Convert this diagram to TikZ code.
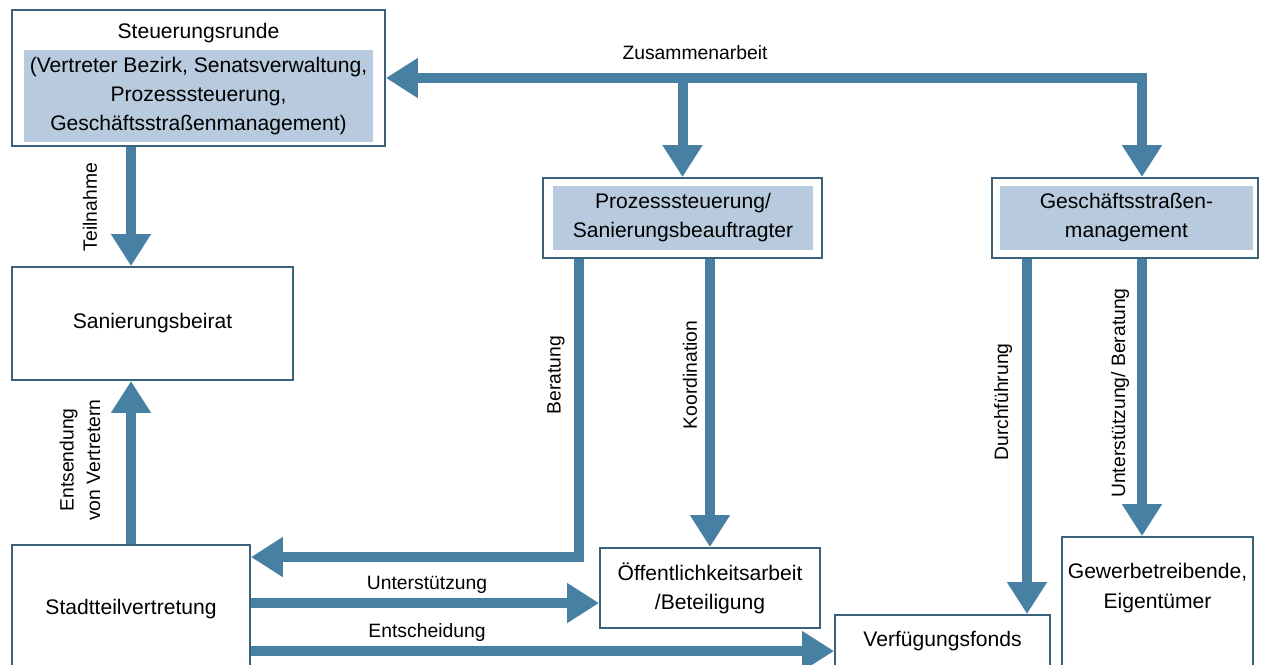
\documentclass[tikz,border=0pt]{standalone}
\usepackage{fontspec}
\setmainfont{Liberation Sans}
\usepackage{tikz}
\usetikzlibrary{arrows.meta,positioning,calc}

\definecolor{flowblue}{RGB}{72,128,163}
\definecolor{boxline}{RGB}{58,98,124}
\definecolor{shadeblue}{RGB}{184,202,222}

\begin{document}
\begin{tikzpicture}[x=0.02cm,y=-0.02cm,
    font=\fontsize{12}{16.5}\selectfont,
    box/.style={draw=boxline,line width=1.1pt,fill=white,inner sep=0pt,align=center},
    shadebox/.style={fill=shadeblue,inner sep=0pt,align=center},
    flow/.style={draw=flowblue,line width=0.2cm,-{Triangle[width=0.76cm,length=0.64cm]}},
    lbl/.style={font=\fontsize{11}{15}\selectfont,inner sep=1pt},
    vlbl/.style={lbl,rotate=90,align=center}]
        \useasboundingbox (0,0) rectangle (1262,664);

        % Top boxes
        \node[box,minimum width=7.46cm,minimum height=2.72cm] (steuer) at (198.5,78) {};
        \node (steuerTitle) at (198.5,33) {Steuerungsrunde};
        \node[shadebox,minimum width=6.98cm,minimum height=1.84cm] (steuerIn) at (198.5,96)
            {(Vertreter Bezirk, Senatsverwaltung,\\Prozesssteuerung,\\Geschäftsstraßenmanagement)};

        \node[box,minimum width=5.58cm,minimum height=1.6cm] (prozess) at (682.5,218) {};
        \node[shadebox,minimum width=5.2cm,minimum height=1.28cm] (prozessIn) at (683,218)
            {Prozesssteuerung/\\Sanierungsbeauftragter};

        \node[box,minimum width=5.32cm,minimum height=1.6cm] (geschaeft) at (1125,218) {};
        \node[shadebox,minimum width=5.06cm,minimum height=1.28cm] (geschaeftIn) at (1126.5,218)
            {Geschäftsstraßen-\\management};

        % Left boxes
        \node[box,minimum width=5.62cm,minimum height=2.26cm] (beirat) at (152.5,323.5) {Sanierungsbeirat};
        \node[box,minimum width=4.76cm,minimum height=2.56cm] (stadtteil) at (131,609) {Stadtteilvertretung};

        % Bottom boxes
        \node[box,minimum width=4.4cm,minimum height=1.6cm] (oeff) at (710,588) {Öffentlichkeitsarbeit\\/Beteiligung};
        \node[box,minimum width=4.3cm,minimum height=1.04cm] (verf) at (942.5,641) {Verfügungsfonds};
        \node[box,minimum width=3.82cm,minimum height=2.76cm] (gewerbe) at (1157.5,606) {};
        \node[align=center,font=\fontsize{12}{17.5}\selectfont] (gewerbeText) at (1157.5,588) {Gewerbetreibende,\\Eigentümer};

        % Helper coordinates
        \coordinate (zusDown) at ($(geschaeft.north)+(17,0)$);
        \coordinate (berStart) at ($(prozess.south)+(-104,0)$);
        \coordinate (berEnd) at ($(stadtteil.north east)+(0,13)$);
        \coordinate (untStart) at ($(stadtteil.north east)+(0,59)$);
        \coordinate (entStart) at ($(stadtteil.north east)+(0,107)$);
        \coordinate (durchStart) at ($(geschaeft.south)+(-98,0)$);
        \coordinate (gewStart) at ($(geschaeft.south)+(17,0)$);

        % Arrows
        \draw[flow,{Triangle[width=0.76cm,length=0.64cm]}-{Triangle[width=0.76cm,length=0.64cm]}] (steuer.east) -| (zusDown);
        \draw[flow] (prozess.north |- steuer.east) -- (prozess.north);
        \draw[flow] (steuer.south -| stadtteil.north) -- (beirat.north -| stadtteil.north);
        \draw[flow] (stadtteil.north) -- (beirat.south -| stadtteil.north);
        \draw[flow] (berStart) |- (berEnd);
        \draw[flow] (prozess.south -| oeff.north) -- (oeff.north);
        \draw[flow] (untStart) -- (oeff.west |- untStart);
        \draw[flow] (entStart) -- (verf.west |- entStart);
        \draw[flow] (durchStart) -- (verf.north -| durchStart);
        \draw[flow] (gewStart) -- (gewerbe.north -| gewStart);

        % Labels
        \node[lbl] (zusLbl) at (695,53) {Zusammenarbeit};
        \node[vlbl] (teilLbl) at (90,207) {Teilnahme};
        \node[vlbl] (entsLbl) at (80,460) {Entsendung\\von Vertretern};
        \node[vlbl] (berLbl) at (556,375) {Beratung};
        \node[vlbl] (koordLbl) at (690,375) {Koordination};
        \node[lbl] (untLbl) at (427,585) {Unterstützung};
        \node[lbl] (entLbl) at (427,632) {Entscheidung};
        \node[vlbl] (durchLbl) at (1003,402) {Durchführung};
        \node[vlbl] (gewLbl) at (1120,393) {Unterstützung/ Beratung};
\end{tikzpicture}
\end{document}
